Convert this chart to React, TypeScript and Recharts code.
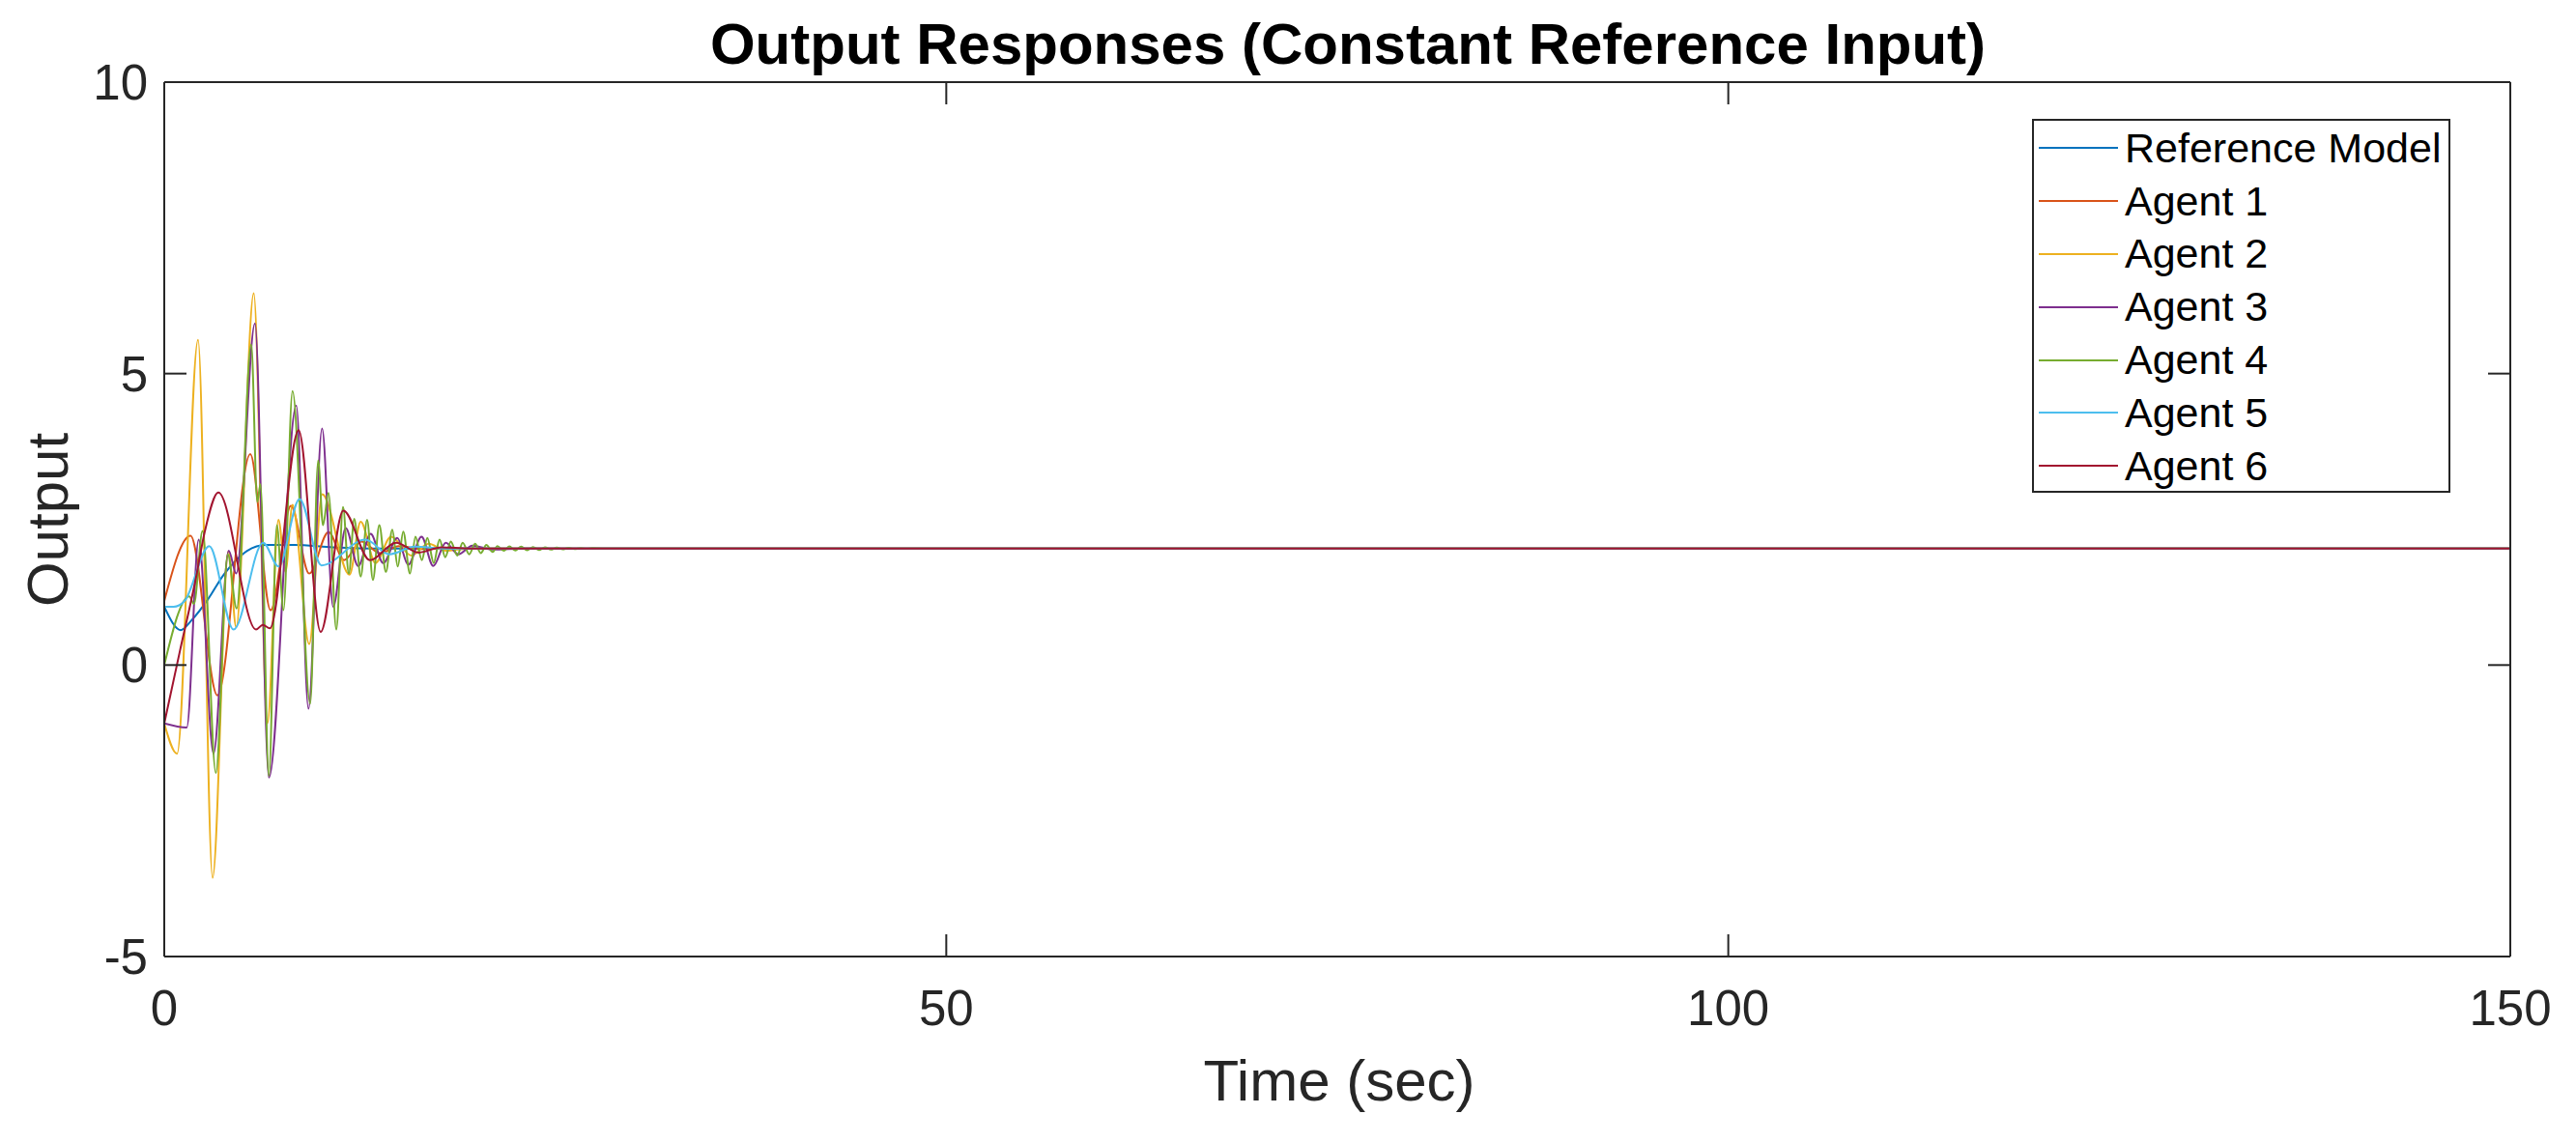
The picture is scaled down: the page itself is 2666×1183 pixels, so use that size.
import React from 'react';
import { LineChart, Line, XAxis, YAxis, Legend } from 'recharts';

const FONT = '"Liberation Sans", Arial, Helvetica, sans-serif';
const AXIS_COLOR = '#262626';

const xTicks = [0, 50, 100, 150];
const yTicks = [-5, 0, 5, 10];

const seriesNames = ['Reference Model', 'Agent 1', 'Agent 2', 'Agent 3', 'Agent 4', 'Agent 5', 'Agent 6'];
const seriesColors = ['#0072BD', '#D95319', '#EDB120', '#7E2F8E', '#77AC30', '#4DBEEE', '#A2142F'];

// values (time in sec, output)
const refTime = [0, 1.05, 1.75, 2.8, 3.8, 4.6, 5.3, 6.5, 8.3, 10.8, 14, 150];
const refOutput = [1.0, 0.6, 0.77, 1.13, 1.55, 1.8, 1.96, 2.06, 2.06, 2.02, 2.0, 2.0];

const agent1Time = [0, 1.68, 3.4, 5.5, 6.8, 8.1, 9.27, 10.5, 11.5, 12.6, 13.8, 15, 16.5, 18, 150];
const agent1Output = [1.1, 2.22, -0.52, 3.62, 0.94, 2.73, 1.57, 2.28, 1.8, 2.12, 1.92, 2.04, 1.99, 2.0, 2.0];

const agent2Time = [0, 0.82, 2.16, 3.09, 4.1, 4.6, 5.72, 6.6, 7.3, 7.75, 8.2, 9.27, 10.1, 11.84, 12.56, 13.5, 14.5, 15.8, 16.9, 18, 19.5, 150];
const agent2Output = [-1.0, -1.52, 5.58, -3.65, 1.95, 0.65, 6.38, -1.0, 2.49, 1.6, 2.75, 0.36, 2.93, 1.55, 2.46, 1.75, 2.2, 1.88, 2.08, 1.96, 2.0, 2.0];

const agent3Time = [0, 1.44, 2.2, 3.15, 4.12, 4.6, 5.8, 6.69, 8.44, 9.22, 10.09, 10.8, 11.6, 12.4, 13.2, 14.0, 14.9, 15.6, 16.45, 17.2, 18.0, 18.8, 19.7, 21, 23, 150];
const agent3Output = [-1.0, -1.07, 2.15, -1.52, 1.96, 1.57, 5.86, -1.93, 4.45, -0.75, 4.06, 1.0, 2.35, 1.7, 2.25, 1.75, 2.18, 1.72, 2.2, 1.7, 2.1, 1.9, 2.05, 1.98, 2.0, 2.0];

const agent4Time = [
  0, 1.6, 1.9, 2.45, 3.3, 4.06, 4.63, 5.56, 5.95, 6.15, 6.69, 7.2, 7.62, 8.2, 9.33, 9.84, 10.15, 10.5, 11.0,
  11.43, 11.8, 12.15, 12.56, 12.97, 13.34, 13.75, 14.17, 14.58, 14.93, 15.28, 15.71, 16.06, 16.47, 16.82,
  17.23, 17.6, 17.97, 18.32, 18.74, 19.08, 19.5, 19.87, 20.24, 20.59, 21.0, 21.3, 21.7, 22.06, 22.44, 22.82,
  23.2, 23.58, 23.96, 24.34, 24.72, 25.1, 25.48, 25.86, 26.24, 26.62, 27.0, 27.38, 28, 150,
];
const agent4Output = [
  0, 1.18, 1.05, 2.3, -1.85, 1.9, 0.97, 5.5, 2.8, 3.1, -1.9, 2.4, 0.94, 4.7, -0.66, 3.51, 2.4, 2.95, 0.61,
  2.71, 1.57, 2.51, 1.52, 2.49, 1.46, 2.4, 1.6, 2.32, 1.69, 2.29, 1.57, 2.2, 1.8, 2.18,
  1.75, 2.15, 1.85, 2.12, 1.88, 2.1, 1.9, 2.08, 1.92, 2.06, 1.94, 2.04, 1.96, 2.035, 1.965, 2.03,
  1.97, 2.025, 1.975, 2.02, 1.98, 2.015, 1.985, 2.012, 1.99, 2.008, 1.993, 2.005, 2.0, 2.0,
];

const agent5Time = [0, 0.6, 1.3, 2.88, 4.43, 6.32, 7.31, 8.65, 10.05, 12.86, 14.4, 16, 18, 150];
const agent5Output = [1.0, 1.0, 1.1, 2.04, 0.61, 2.1, 1.69, 2.85, 1.71, 2.15, 1.9, 2.03, 2.0, 2.0];

const agent6Time = [0, 1.0, 2.0, 2.6, 3.46, 5.87, 6.3, 6.75, 8.59, 10.0, 11.45, 13.15, 14.82, 16.27, 17.7, 19.5, 150];
const agent6Output = [-1.0, 0.24, 1.46, 2.3, 2.96, 0.61, 0.69, 0.63, 4.03, 0.57, 2.65, 1.8, 2.1, 1.93, 2.02, 2.0, 2.0];

const toPoints = (time: number[], output: number[]) => time.map((t, i) => ({ t, y: output[i] }));

const seriesData = [
  toPoints(refTime, refOutput),
  toPoints(agent1Time, agent1Output),
  toPoints(agent2Time, agent2Output),
  toPoints(agent3Time, agent3Output),
  toPoints(agent4Time, agent4Output),
  toPoints(agent5Time, agent5Output),
  toPoints(agent6Time, agent6Output),
];

// legend drawn in series order (the payload order is not guaranteed)
const renderLegend = () => (
  <div
    style={{
      width: 433,
      height: 387,
      boxSizing: 'border-box',
      border: `2px solid ${AXIS_COLOR}`,
      background: '#fff',
      paddingTop: 1,
      fontFamily: FONT,
    }}
  >
    {seriesNames.map((name, i) => (
      <div key={`legend-${i}`} style={{ display: 'flex', alignItems: 'center', height: 54.8 }}>
        <svg width={94} height={6} style={{ flex: 'none' }}>
          <line x1={5} y1={3} x2={87} y2={3} stroke={seriesColors[i]} strokeWidth={2} />
        </svg>
        <span style={{ fontSize: 43, color: '#000', whiteSpace: 'nowrap', lineHeight: '43px' }}>{name}</span>
      </div>
    ))}
  </div>
);

// top / right axes only carry the inward tick marks, no labels
const noLabel = () => <g />;

const tickLineStyle = { stroke: AXIS_COLOR, strokeWidth: 2 };
const axisLineStyle = { stroke: AXIS_COLOR, strokeWidth: 2 };

const App: React.FC = () => {
  return (
    <div style={{ position: 'absolute', left: 0, top: 0, width: 2666, height: 1183, background: '#fff' }}>
      <LineChart width={2666} height={1183} margin={{ top: 84, right: 67, bottom: 192, left: 169 }}>
        <XAxis
          dataKey="t"
          type="number"
          domain={[0, 150]}
          ticks={xTicks}
          interval={0}
          allowDataOverflow
          height={1}
          tickSize={-23}
          tickMargin={58}
          axisLine={axisLineStyle}
          tickLine={tickLineStyle}
          tick={{ fill: AXIS_COLOR, fontSize: 51, fontFamily: FONT }}
        />
        <XAxis
          xAxisId="top"
          orientation="top"
          dataKey="t"
          type="number"
          domain={[0, 150]}
          ticks={xTicks}
          interval={0}
          allowDataOverflow
          height={1}
          tickSize={-23}
          axisLine={axisLineStyle}
          tickLine={tickLineStyle}
          tick={noLabel}
        />
        <YAxis
          type="number"
          domain={[-5, 10]}
          ticks={yTicks}
          interval={0}
          allowDataOverflow
          width={1}
          tickSize={-23}
          tickMargin={40}
          axisLine={axisLineStyle}
          tickLine={tickLineStyle}
          tick={{ fill: AXIS_COLOR, fontSize: 51, fontFamily: FONT }}
        />
        <YAxis
          yAxisId="right"
          orientation="right"
          type="number"
          domain={[-5, 10]}
          ticks={yTicks}
          interval={0}
          allowDataOverflow
          width={1}
          tickSize={-23}
          axisLine={axisLineStyle}
          tickLine={tickLineStyle}
          tick={noLabel}
        />
        <Legend
          layout="vertical"
          align="center"
          verticalAlign="middle"
          content={renderLegend}
          wrapperStyle={{ left: 2103, top: 123, width: 433, height: 387 }}
        />
        {seriesData.map((points, i) => (
          <Line
            key={seriesNames[i]}
            data={points}
            dataKey="y"
            name={seriesNames[i]}
            type="monotone"
            stroke={seriesColors[i]}
            strokeWidth={2}
            dot={false}
            activeDot={false}
            isAnimationActive={false}
          />
        ))}
      </LineChart>
      <div
        style={{
          position: 'absolute',
          left: 0,
          top: 16,
          width: 2790,
          textAlign: 'center',
          fontFamily: FONT,
          fontWeight: 'bold',
          fontSize: 60,
          lineHeight: '60px',
          color: '#000',
          whiteSpace: 'nowrap',
        }}
      >
        Output Responses (Constant Reference Input)
      </div>
      <div
        style={{
          position: 'absolute',
          left: 0,
          top: 1089,
          width: 2772,
          textAlign: 'center',
          fontFamily: FONT,
          fontSize: 60,
          lineHeight: '60px',
          color: AXIS_COLOR,
          whiteSpace: 'nowrap',
        }}
      >
        Time (sec)
      </div>
      <div
        style={{
          position: 'absolute',
          left: -150,
          top: 508,
          width: 400,
          height: 60,
          textAlign: 'center',
          fontFamily: FONT,
          fontSize: 60,
          lineHeight: '60px',
          color: AXIS_COLOR,
          whiteSpace: 'nowrap',
          transform: 'rotate(-90deg)',
        }}
      >
        Output
      </div>
    </div>
  );
};

export default App;
